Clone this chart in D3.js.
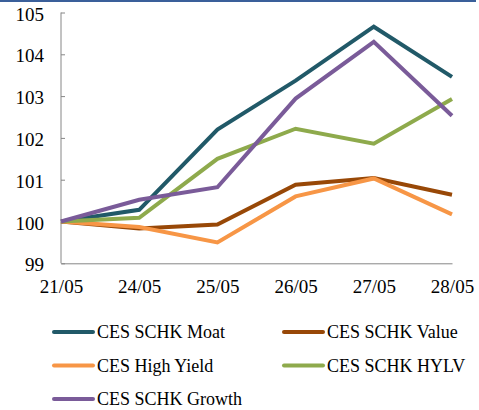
<!DOCTYPE html>
<html>
<head>
<meta charset="utf-8">
<script src="https://cdn.jsdelivr.net/npm/d3@7"></script>
<style>
  body { margin: 0; background: #fff; }
  text { font-family: "Liberation Serif", "Times New Roman", serif; }
</style>
</head>
<body>
<div id="chart"></div>
<script>
var dates = ["21/05", "24/05", "25/05", "26/05", "27/05", "28/05"];
var yTicks = [99, 100, 101, 102, 103, 104, 105];

var moat      = [100, 100.28, 102.2, 103.37, 104.66, 103.46];
var value     = [100, 99.83, 99.93, 100.88, 101.04, 100.64];
var highYield = [100, 99.87, 99.5, 100.6, 101.03, 100.17];
var hylv      = [100, 100.09, 101.5, 102.22, 101.86, 102.93];
var growth    = [100, 100.52, 100.82, 102.94, 104.3, 102.53];

var seriesNames = ["CES SCHK Moat", "CES SCHK Value", "CES High Yield", "CES SCHK HYLV", "CES SCHK Growth"];
var seriesColors = ["#215968", "#984807", "#F79646", "#8EAA4C", "#7A5B99"];
var seriesValues = [moat, value, highYield, hylv, growth];

var W = 479, H = 410;
var margin = {top: 12.5, left: 61, right: 27, bottom: 147};

var svg = d3.select("#chart").append("svg")
  .attr("width", W)
  .attr("height", H);

// blue rule along the top
svg.append("rect")
  .attr("x", 0).attr("y", 0)
  .attr("width", 476).attr("height", 2)
  .attr("fill", "#3A5F9A");

var x = d3.scalePoint()
  .domain(dates)
  .range([margin.left, W - margin.right]);

var y = d3.scaleLinear()
  .domain([99, 105])
  .range([H - margin.bottom + 0.3, margin.top]);

// y axis
var yAxis = svg.append("g")
  .attr("transform", "translate(" + margin.left + ",0)")
  .call(d3.axisRight(y).tickValues(yTicks).tickSize(4).tickFormat(d3.format("d")));
yAxis.select(".domain").attr("stroke", "#868686").attr("d", "M0," + y(105) + "V" + y(99));
yAxis.selectAll(".tick line").attr("stroke", "#868686");
yAxis.selectAll(".tick text")
  .attr("x", -17)
  .attr("dy", "0.4em")
  .attr("text-anchor", "end")
  .style("font-size", "19px")
  .attr("fill", "#000");

// x axis
var xAxis = svg.append("g")
  .attr("transform", "translate(0," + y(99) + ")")
  .call(d3.axisBottom(x).tickSize(0).tickPadding(16));
xAxis.select(".domain").attr("stroke", "#868686");
xAxis.selectAll(".tick text")
  .style("font-size", "19px")
  .attr("fill", "#000");

var line = d3.line()
  .x(function(d, i) { return x(dates[i]); })
  .y(function(d) { return y(d); });

svg.selectAll(".series")
  .data(seriesValues)
  .enter()
  .append("path")
    .attr("class", "series")
    .attr("fill", "none")
    .attr("stroke", function(d, i) { return seriesColors[i]; })
    .attr("stroke-width", 4)
    .attr("stroke-linejoin", "miter")
    .attr("d", line);

// legend
var legend = svg.append("g");
seriesNames.forEach(function(name, i) {
  var col = i % 2, row = Math.floor(i / 2);
  var lx = 53 + col * 230, ly = 332 + row * 33.5;
  legend.append("line")
    .attr("x1", lx + 1).attr("x2", lx + 40)
    .attr("y1", ly).attr("y2", ly)
    .attr("stroke", seriesColors[i])
    .attr("stroke-width", 4)
    .attr("stroke-linecap", "round");
  legend.append("text")
    .attr("x", lx + 44)
    .attr("y", ly + 6)
    .style("font-size", "18px")
    .text(name);
});
</script>
</body>
</html>
